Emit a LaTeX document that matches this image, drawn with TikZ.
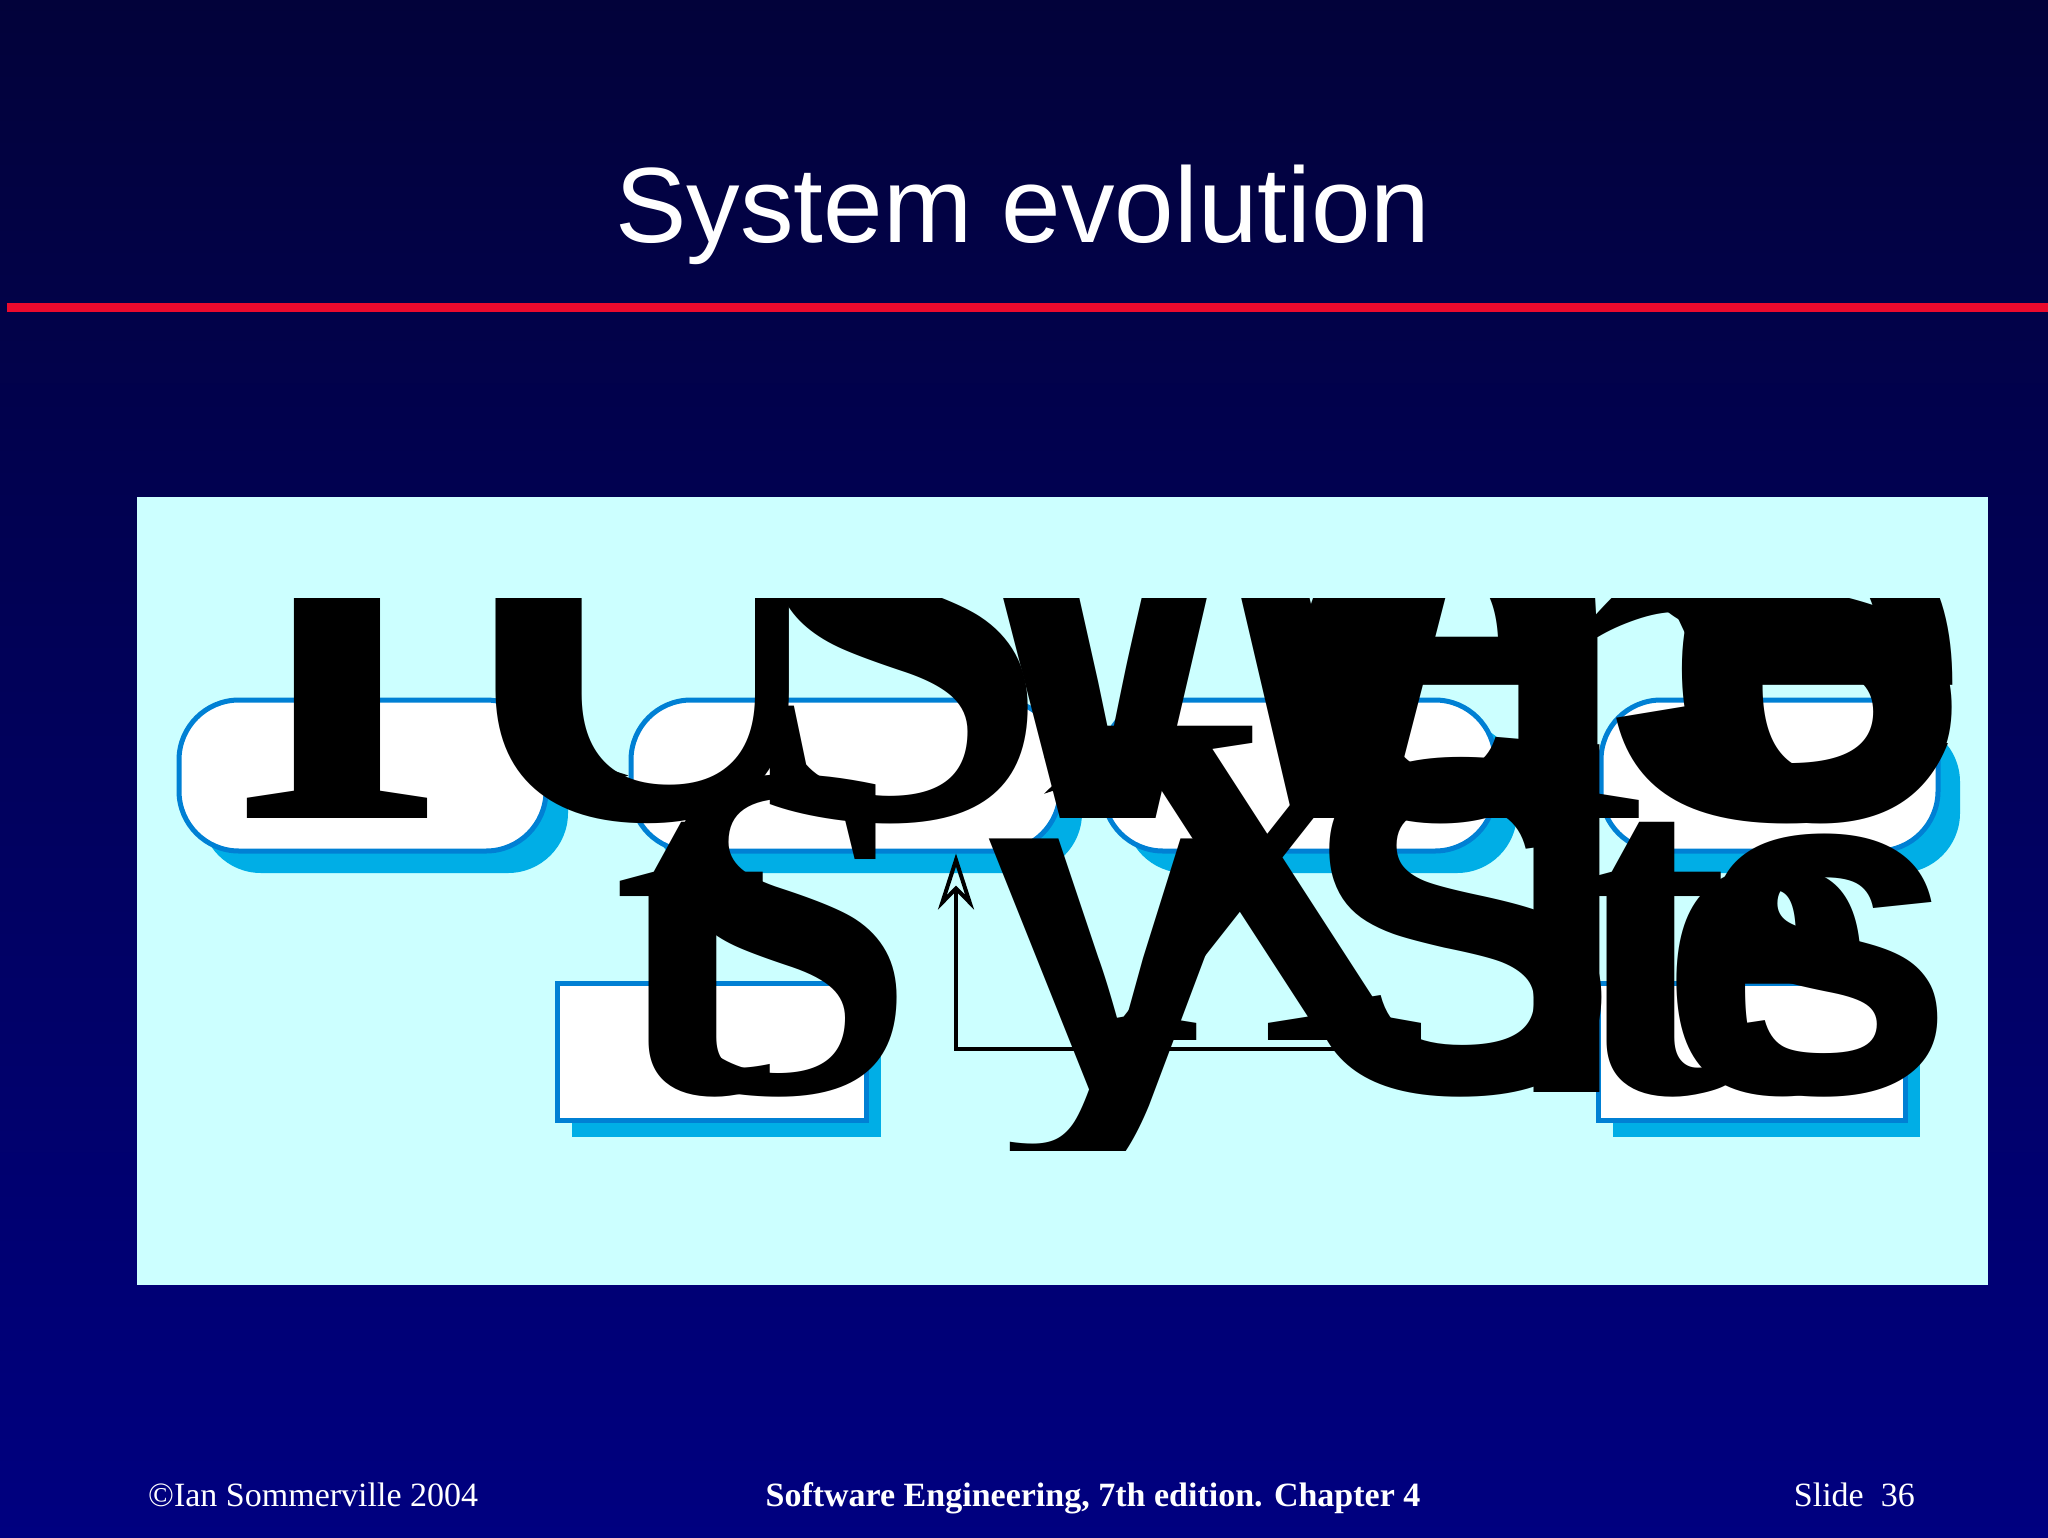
\documentclass[tikz,border=0pt]{standalone}
\usepackage{fontspec}
\setmainfont{Liberation Serif}
\newfontfamily\sansf{Liberation Sans}
\newfontfamily\seriff{Liberation Serif}
\usetikzlibrary{arrows.meta,shadows}
\definecolor{bgtop}{RGB}{2,2,58}
\definecolor{bgbot}{RGB}{0,0,128}
\definecolor{redline}{RGB}{235,10,45}
\definecolor{panel}{RGB}{204,255,255}
\definecolor{boxline}{RGB}{0,128,212}
\definecolor{boxshadow}{RGB}{0,174,230}
\tikzset{
  rbox/.style={draw=boxline, line width=5pt, fill=white, rounded corners=60pt,
    minimum height=151pt, inner sep=0pt,
    drop shadow={shadow xshift=22pt, shadow yshift=-22pt, fill=boxshadow, opacity=1}},
  sbox/.style={draw=boxline, line width=5pt, fill=white,
    minimum height=137pt, inner sep=0pt,
    drop shadow={shadow xshift=15pt, shadow yshift=-17pt, fill=boxshadow, opacity=1}},
  conn/.style={draw=black, line width=4pt,
    -{Stealth[open, length=56pt, width=36pt, line width=4pt]}},
  gA/.style={anchor=base west, inner sep=0pt, outer sep=0pt, text=black,
    font=\seriff\bfseries\fontsize{560}{560}\selectfont},
  gAs/.style={gA, font=\sansf\bfseries\fontsize{560}{560}\selectfont},
  gB/.style={anchor=base west, inner sep=0pt, outer sep=0pt, text=black,
    font=\seriff\bfseries\fontsize{480}{480}\selectfont},
  gBs/.style={gB, font=\sansf\bfseries\fontsize{480}{480}\selectfont},
  foot/.style={text=white, inner sep=0pt, font=\seriff\fontsize{34}{34}\selectfont}
}
\begin{document}
\begin{tikzpicture}[x=1pt, y=-1pt]
\useasboundingbox (0,0) rectangle (2048,1537);
\shade[top color=bgtop, bottom color=bgbot] (0,0) rectangle (2048,1537);
\fill[redline] (7,303) rectangle (2048,312);
\node[text=white, anchor=base, inner sep=0pt, font=\sansf\fontsize{107}{107}\selectfont] (title) at (1023,242) {System evolution};
\fill[panel] (137,497) rectangle (1988,1285);

% boxes
\node[rbox, minimum width=367pt] (define) at (362.5,775.5) {};
\node[rbox, minimum width=429pt] (assess) at (845.5,775.5) {};
\node[rbox, minimum width=392pt] (propose) at (1299,775.5) {};
\node[rbox, minimum width=337pt] (modify) at (1769.5,775.5) {};
\node[sbox, minimum width=309pt] (exist) at (711.5,1051.5) {};
\node[sbox, minimum width=307pt] (newsys) at (1751.5,1051.5) {};

% connectors
\draw[conn] (define.east) -- (assess.west);
\draw[conn] (assess.east) -- (propose.west);
\draw[conn] (propose.east) -- (modify.west);
\draw[conn] (exist.north) -- (exist.north |- assess.south);
\coordinate (corner) at (956,1049);
\draw[conn] (newsys.west |- corner) -- (corner) -- (corner |- assess.south);

% oversized glyphs
\begin{scope}
\clip (239,598) rectangle (1955,1150);
\node[gA] (a1) at (228,818) {I};
\node[gA] (a2) at (440,818) {U};
\node[gA] (a3) at (740,818) {S};
\node[gAs] (a4) at (960,818) {W};
\node[gAs] (a5) at (1280,818) {e};
\node[gA] (a6) at (1470,818) {r};
\node[gAs] (a7) at (1600,818) {S};
\node[gAs] (a8) at (1660,818) {e};
\node[gB] (b1) at (612,1092) {t};
\node[gB] (b2) at (650,1092) {S};
\node[gBs] (b3) at (985,1092) {y};
\node[gB] (b4) at (1080,1040) {X};
\node[gBs] (b5) at (1300,1092) {S};
\node[gBs] (b6) at (1500,1092) {l};
\node[gB] (b7) at (1570,1092) {t};
\node[gB] (b8) at (1660,1092) {e};
\node[gBs] (b9) at (1690,1092) {s};
\end{scope}

% footer
\node[foot, anchor=base west] (f1) at (148,1506) {©Ian Sommerville 2004};
\node[foot, anchor=base, font=\seriff\bfseries\fontsize{34}{34}\selectfont] (f2) at (1093,1506) {Software Engineering, 7th edition. Chapter 4};
\node[foot, anchor=base east] (f3) at (1915,1506) {Slide~~36};
\end{tikzpicture}
\end{document}
